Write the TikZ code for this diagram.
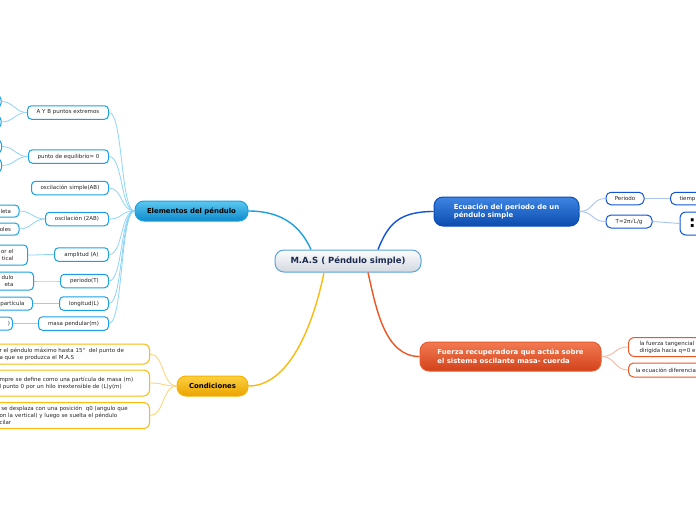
\documentclass[tikz,border=0pt]{standalone}
\usepackage{fontspec}
\setmainfont{DejaVu Sans}
\definecolor{elemblue}{HTML}{1BA1E2}
\definecolor{elemtop}{HTML}{5CC8F2}
\definecolor{elembot}{HTML}{0E8ACB}
\definecolor{lineblue}{HTML}{8FD4F6}
\definecolor{ecuborder}{HTML}{0B4DB5}
\definecolor{ecutop}{HTML}{3F85E3}
\definecolor{ecubot}{HTML}{0A4CAF}
\definecolor{ecuchild}{HTML}{1155D6}
\definecolor{eculine}{HTML}{A9C4F0}
\definecolor{fuetop}{HTML}{F27A52}
\definecolor{fuebot}{HTML}{D2421A}
\definecolor{fueborder}{HTML}{E85A30}
\definecolor{fuechild}{HTML}{EC5524}
\definecolor{fueline}{HTML}{F7B9A2}
\definecolor{contop}{HTML}{FDD040}
\definecolor{conbot}{HTML}{EAA300}
\definecolor{conborder}{HTML}{F5B400}
\definecolor{conchild}{HTML}{FBBA10}
\definecolor{conline}{HTML}{FDD77A}
\definecolor{centop}{HTML}{FBFCFD}
\definecolor{cenbot}{HTML}{D3D9E0}
\definecolor{cenborder}{HTML}{5BA3DC}
\definecolor{centext}{HTML}{1B2A4E}
\definecolor{txt}{HTML}{262626}
\tikzset{
  smallfont/.style={font=\fontsize{5.5}{7}\selectfont},
  mainnode/.style={line width=1pt, rounded corners=9pt, inner sep=0pt,
    font=\bfseries\fontsize{6.9}{8.6}\selectfont},
  cennode/.style={draw=cenborder, line width=1pt, rounded corners=9pt,
    top color=centop, bottom color=cenbot, minimum width=146pt, minimum height=22pt,
    inner sep=0pt, font=\bfseries\fontsize{8.5}{10}\selectfont, text=centext},
  elemnode/.style={mainnode, draw=elemblue, top color=elemtop, bottom color=elembot,
    minimum width=113pt, minimum height=20pt, text=black},
  ecunode/.style={mainnode, draw=ecuborder, top color=ecutop, bottom color=ecubot,
    minimum width=145pt, minimum height=29pt, text=white, align=left},
  fuenode/.style={mainnode, draw=fueborder, top color=fuetop, bottom color=fuebot,
    minimum width=181pt, minimum height=29pt, text=white, align=left},
  connode/.style={mainnode, draw=conborder, top color=contop, bottom color=conbot,
    minimum width=71pt, minimum height=20pt, text=black},
  childbase/.style={smallfont, fill=white, line width=1pt, rounded corners=4pt,
    text=txt, inner ysep=1pt},
  bchild/.style={childbase, draw=elemblue, anchor=east, minimum height=13.5pt, inner xsep=2pt},
  bgc/.style={childbase, draw=elemblue, anchor=east, text width=60pt, align=right,
    minimum height=13pt},
  cchild/.style={childbase, draw=conchild, rounded corners=6pt, anchor=east,
    text width=142pt, align=left, inner xsep=8pt},
  echild/.style={childbase, draw=ecuchild, rounded corners=5pt, minimum height=12.5pt, inner xsep=2pt},
  rgc/.style={childbase, anchor=west, align=left},
  bline/.style={draw=lineblue, line width=0.8pt},
  eline/.style={draw=eculine, line width=0.9pt},
  fline/.style={draw=fueline, line width=0.9pt},
  cline/.style={draw=conline, line width=0.9pt},
}
\begin{document}
\begin{tikzpicture}[x=1pt,y=-1pt]
\useasboundingbox[fill=white] (0,0) rectangle (696,520);

% main nodes
\node[cennode] (mas) at (348,261) {M.A.S ( Péndulo simple)};
\node[elemnode] (elem) at (191.5,211) {Elementos del péndulo};
\node[ecunode] (ecu) at (506.5,211.5) {Ecuación del periodo de un\\péndulo simple};
\node[fuenode] (fue) at (510.5,356.5) {Fuerza recuperadora que actúa sobre\\el sistema oscilante masa- cuerda};
\node[connode] (con) at (212.5,386) {Condiciones};

% Elementos children
\node[bchild, minimum width=81pt] (ab) at (109,112.5) {A Y B puntos extremos};
\node[bchild, minimum width=80pt] (pe) at (109,156.5) {punto de equilibrio= 0};
\node[bchild, minimum width=77pt] (os) at (109,188) {oscilación simple(AB)};
\node[bchild, minimum width=63pt] (o2) at (109,219) {oscilación (2AB)};
\node[bchild, minimum width=54pt] (am) at (109,254.5) {amplitud (A)};
\node[bchild, minimum width=48pt] (pr) at (109,281) {periodo(T)};
\node[bchild, minimum width=49pt] (lo) at (109,303.5) {longitud(L)};
\node[bchild, minimum width=70pt] (ma) at (109,323.5) {masa pendular(m)};

% grandchildren (cut at left edge)
\node[bgc, inner xsep=4pt, minimum height=12pt] (ab1) at (1.5,101.5) {};
\node[bgc, inner xsep=4pt, minimum height=12pt] (ab2) at (1.5,122) {};
\node[bgc, inner xsep=4pt] (pe1) at (2,146.5) {};
\node[bgc, inner xsep=4pt] (pe2) at (2,165.5) {};
\node[bgc, inner xsep=8pt, minimum height=12pt] (g1) at (19.5,211) {leta};
\node[bgc, inner xsep=8pt, minimum height=12pt] (g2) at (19.5,229) {oles};
\node[bgc, inner xsep=14pt, minimum height=20pt] (g3) at (28,255) {or el\\tical};
\node[bgc, inner xsep=20pt, minimum height=18pt] (g4) at (34,281) {dulo\\eta};
\node[bgc, inner xsep=8pt] (g5) at (33,303.5) {partícula};
\node[bgc, inner xsep=2.5pt] (g6) at (13,323.5) {)};

% Condiciones children
\node[cchild, minimum height=20pt] (c1) at (150,354) {r el péndulo máximo hasta 15°\ \ del punto de\\a que se produzca el M.A.S};
\node[cchild, minimum height=26pt] (c2) at (150,383) {mpre se define como una partícula de masa (m)\\l punto 0 por un hilo inextensible de (L)y(m)};
\node[cchild, minimum height=26pt] (c3) at (150,415.5) {\ se desplaza con una posición\ \ q0 (angulo que\\on la vertical) y luego se suelta el péndulo\\cilar};

% Ecuacion children
\node[echild, minimum width=38pt] (per) at (625,198.5) {Periodo};
\node[echild, minimum width=46pt, minimum height=13pt] (tf) at (629,221.5) {T=2π√L/g};
\node[rgc, draw=ecuchild, rounded corners=5pt, text width=60pt, inner xsep=9pt, minimum height=12.5pt] (ti) at (670,198.5) {tiemp};
\node[rgc, draw=ecuchild, rounded corners=6pt, text width=40pt, inner xsep=9pt, minimum height=23pt,
  font=\bfseries\fontsize{16}{16}\selectfont, text=black] (co) at (679.5,223.5) {:};

% Fuerza children
\node[rgc, draw=fuechild, rounded corners=6pt, text width=80pt, inner xsep=11pt, minimum height=19pt] (f1) at (628,347) {la fuerza tangencial\\dirigida hacia q=0 e};
\node[rgc, draw=fuechild, rounded corners=5pt, text width=80pt, inner xsep=7pt, minimum height=14pt] (f2) at (628,370) {la ecuación diferencia};

% main connectors
\draw[draw=elemblue, line width=1.4pt] (elem.east) .. controls +(35,0) and +(-10,-22) .. ([xshift=-37pt]mas.north);
\draw[draw=ecuchild, line width=1.4pt] ([xshift=30pt]mas.north) .. controls +(10,-25) and +(-35,0) .. (ecu.west);
\draw[draw=fuechild, line width=1.4pt] ([xshift=20pt]mas.south) .. controls +(8,35) and +(-35,0) .. (fue.west);
\draw[draw=conchild, line width=1.4pt] ([xshift=-24pt]mas.south) .. controls +(-8,40) and +(45,0) .. (con.east);

% elementos lines
\foreach \c in {ab,pe,os,o2,am,pr,lo,ma}
  \draw[bline] (elem.west) .. controls +(-14,0) and +(14,0) .. (\c.east);
\foreach \p/\c in {ab/ab1,ab/ab2,pe/pe1,pe/pe2,o2/g1,o2/g2,am/g3,pr/g4,lo/g5,ma/g6}
  \draw[bline] (\p.west) .. controls +(-12,0) and +(12,0) .. (\c.east);

% condiciones lines
\foreach \c in {c1,c2,c3}
  \draw[cline] (con.west) .. controls +(-14,0) and +(14,0) .. (\c.east);

% ecuacion lines
\foreach \c in {per,tf}
  \draw[eline] (ecu.east) .. controls +(14,0) and +(-14,0) .. (\c.west);
\draw[eline] (per.east) -- (ti.west);
\draw[eline] (tf.east) -- (co.west);

% fuerza lines
\foreach \c in {f1,f2}
  \draw[fline] (fue.east) .. controls +(14,0) and +(-14,0) .. (\c.west);
\end{tikzpicture}
\end{document}
